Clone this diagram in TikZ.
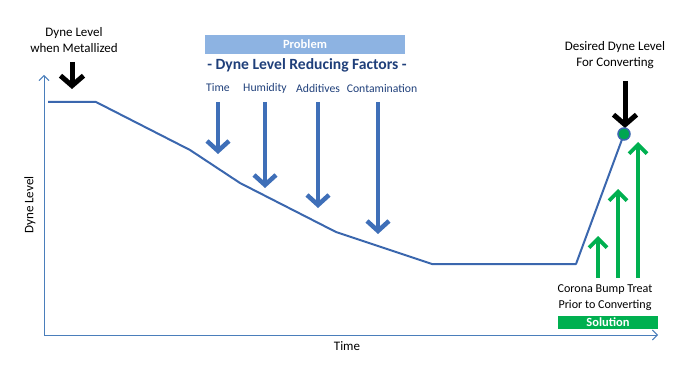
\documentclass[tikz,border=0pt]{standalone}
\usepackage{fontspec}
\setmainfont{Carlito}
\usetikzlibrary{arrows.meta}
\definecolor{axisblue}{HTML}{4A7EBB}
\definecolor{curveblue}{HTML}{3B67AE}
\definecolor{arrblue}{HTML}{3F6FB8}
\definecolor{probbox}{HTML}{8DB3E2}
\definecolor{headblue}{HTML}{1F3F7A}
\definecolor{solgreen}{HTML}{00B050}
\definecolor{dotgreen}{HTML}{00A651}
\tikzset{
  axisline/.style={draw=axisblue, line width=1pt, -{Straight Barb[length=5pt,width=10pt,line width=0.9pt]}},
  curveline/.style={draw=curveblue, line width=2pt, line join=round},
  bluearrow/.style={draw=arrblue, line width=4.5pt, -{Straight Barb[length=10pt,width=22pt]}},
  blackarrow/.style={draw=black, line width=5pt, -{Straight Barb[length=10pt,width=23pt]}},
  greenarrow/.style={draw=solgreen, line width=3.8pt, -{Straight Barb[length=9pt,width=18pt]}},
  lbl/.style={font=\fontsize{13}{15.5}\selectfont, align=center, inner sep=0pt},
  factor/.style={font=\fontsize{11.7}{13}\selectfont, text=headblue, inner sep=0pt},
  banner/.style={inner sep=0pt, font=\fontsize{12.5}{14}\selectfont\bfseries, text=white}
}
\begin{document}
\begin{tikzpicture}[x=1pt,y=-1pt]
\useasboundingbox (0,0) rectangle (700,374);
% axes
\coordinate (origin) at (44,335);
\coordinate (ytip) at (44,75);
\coordinate (xtip) at (658,335);
\draw[axisline] (origin) -- (ytip);
\draw[axisline] (origin) -- (xtip);
\node[lbl, rotate=90] (ylab) at (30,205) {Dyne Level};
\node[lbl] (xlab) at (347,346) {Time};
% curve
\coordinate (c0) at (48,102);
\coordinate (c1) at (96,102);
\coordinate (c2) at (190,150);
\coordinate (c3) at (240,183);
\coordinate (c4) at (336,232);
\coordinate (c5) at (432,264);
\coordinate (c6) at (576,264);
\coordinate (c7) at (624,134);
\draw[curveline] (c0) -- (c1) -- (c2) -- (c3) -- (c4) -- (c5) -- (c6) -- (c7);
% left label
\node[lbl] (metal) at (74,40) {Dyne Level\\when Metallized};
\coordinate (ma) at (72,62);
\coordinate (mb) at (72,89);
\draw[blackarrow] (ma) -- (mb);
% problem banner
\node[banner, fill=probbox, minimum width=200pt, minimum height=19pt] (prob) at (305,44.5) {Problem};
\node[inner sep=0pt, font=\fontsize{15.6}{17}\selectfont\bfseries, text=headblue] (head) at (307,65) {- Dyne Level Reducing Factors -};
% factors
\node[factor] (ftime) at (218,88) {Time};
\node[factor] (fhum) at (265,88) {Humidity};
\node[factor] (fadd) at (318,88) {Additives};
\node[factor] (fcon) at (382,88) {Contamination};
\coordinate (t1) at (218,102); \coordinate (t2) at (218,154);
\coordinate (h1) at (265,102); \coordinate (h2) at (265,188);
\coordinate (a1) at (318,102); \coordinate (a2) at (318,208);
\coordinate (k1) at (378,102); \coordinate (k2) at (378,234);
\draw[bluearrow] (t1) -- (t2);
\draw[bluearrow] (h1) -- (h2);
\draw[bluearrow] (a1) -- (a2);
\draw[bluearrow] (k1) -- (k2);
% right
\node[lbl] (desired) at (615,55) {Desired Dyne Level\\For Converting};
\coordinate (da) at (625,81);
\coordinate (db) at (625,128);
\draw[blackarrow] (da) -- (db);
\node[circle, fill=dotgreen, draw=curveblue, line width=1.5pt, minimum size=12pt, inner sep=0pt] (dot) at (c7) {};
% green arrows
\coordinate (g1a) at (598,278); \coordinate (g1b) at (598,236);
\coordinate (g2a) at (618,278); \coordinate (g2b) at (618,189);
\coordinate (g3a) at (638,278); \coordinate (g3b) at (638,142);
\draw[greenarrow] (g1a) -- (g1b);
\draw[greenarrow] (g2a) -- (g2b);
\draw[greenarrow] (g3a) -- (g3b);
\node[lbl, font=\fontsize{12.1}{15.5}\selectfont] (corona) at (605,297.5) {Corona Bump Treat\\Prior to Converting};
\node[banner, fill=solgreen, minimum width=100pt, minimum height=13pt] (sol) at (608,322) {Solution};
\end{tikzpicture}
\end{document}
